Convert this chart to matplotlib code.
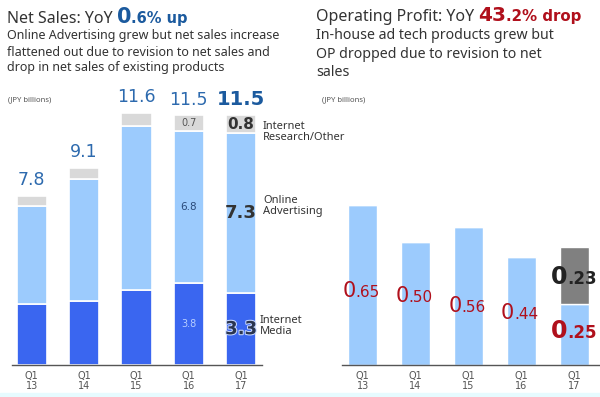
import matplotlib
matplotlib.use("Agg")
import matplotlib.pyplot as plt
from matplotlib.patches import Rectangle
from matplotlib.transforms import offset_copy
import matplotlib.patheffects as pe

plt.rcParams['font.family'] = ['Noto Sans', 'DejaVu Sans']

# ---------------- data ----------------
quarters = ["Q1\n13", "Q1\n14", "Q1\n15", "Q1\n16", "Q1\n17"]
internet_media = [2.8, 2.95, 3.45, 3.8, 3.3]
online_advertising = [4.55, 5.6, 7.55, 7.0, 7.4]
research_other = [0.45, 0.55, 0.6, 0.7, 0.8]
net_sales_totals = ["7.8", "9.1", "11.6", "11.5", "11.5"]
seg_labels_q16 = ["3.8", "6.8", "0.7"]
seg_labels_q17 = ["3.3", "7.3", "0.8"]

op_base = [0.65, 0.50, 0.56, 0.44, 0.25]
op_extra = [0, 0, 0, 0, 0.23]
op_labels = ["0.65", "0.50", "0.56", "0.44", "0.25"]
op_extra_label = "0.23"

# ---------------- style ----------------
W, H = 600, 397
C_DARK = "#3a66f0"
C_LIGHT = "#9ccbfd"
C_GRAY = "#d9d9d9"
C_OPGRAY = "#808080"
C_RED = "#b0101c"
C_BLUE_T = "#2d6aae"
C_BLUE_B = "#1b5a9e"
C_TXT = "#333333"
NUMF = ["DejaVu Sans"]

fig = plt.figure(figsize=(6.0, 3.97), dpi=100)
fig.patches.append(Rectangle((0, 0), 1, 4 / H, transform=fig.transFigure,
                             color="#e6fbff", zorder=0))
renderer = fig.canvas.get_renderer()


def px_axes(x0, y0top, x1, y1top):
    return fig.add_axes([x0 / W, 1 - y1top / H, (x1 - x0) / W, (y1top - y0top) / H])


def style_axes(ax):
    for s in ["top", "right", "left"]:
        ax.spines[s].set_visible(False)
    ax.spines["bottom"].set_color("#555555")
    ax.spines["bottom"].set_linewidth(1.0)
    ax.set_yticks([])
    ax.tick_params(axis="x", length=0, pad=4)
    ax.set_xticks(range(len(quarters)))
    ax.set_xticklabels(quarters, linespacing=1.1, fontsize=7, color="#555555",
                       family=NUMF)


def seq_text(x_px, y_px, parts):
    """Draw text pieces one after another on a shared baseline (pixel coords from top)."""
    xp = x_px
    for s, kw in parts:
        t = fig.text(xp / W, 1 - y_px / H, s, va="baseline", ha="left", **kw)
        bb = t.get_window_extent(renderer)
        xp = bb.x1


x = list(range(len(quarters)))

# ---------------- left: net sales ----------------
ax1 = px_axes(12, 100, 262, 365)
style_axes(ax1)
ax1.set_xlim(-0.38, 4.40)
ax1.set_ylim(0, 265 / 21.7)
bw = 0.58
ax1.bar(x, internet_media, bw, color=C_DARK, edgecolor="white", linewidth=1.2)
ax1.bar(x, online_advertising, bw, bottom=internet_media, color=C_LIGHT,
        edgecolor="white", linewidth=1.2)
b2 = [a + b for a, b in zip(internet_media, online_advertising)]
ax1.bar(x, research_other, bw, bottom=b2, color=C_GRAY, edgecolor="white", linewidth=1.2)
tops = [a + b for a, b in zip(b2, research_other)]

for i, t in enumerate(net_sales_totals):
    last = i == len(x) - 1
    ax1.annotate(t, (i, tops[i]), xytext=(0, 5), textcoords="offset points",
                 ha="center", va="bottom", family=NUMF,
                 fontsize=14 if last else 12.5,
                 fontweight="bold" if last else "normal",
                 color=C_BLUE_B if last else C_BLUE_T)

# segment labels for Q1 16 (small) and Q1 17 (bold)
i = 3
ax1.text(i, b2[i] + research_other[i] / 2, seg_labels_q16[2], ha="center", va="center",
         fontsize=7, color="#555555", family=NUMF)
ax1.text(i, internet_media[i] + online_advertising[i] / 2, seg_labels_q16[1], ha="center",
         va="center", fontsize=7.5, color="#2a4a7a", family=NUMF)
ax1.text(i, internet_media[i] / 2, seg_labels_q16[0], ha="center", va="center",
         fontsize=7, color="#b8cfff", family=NUMF)
i = 4
ax1.text(i, b2[i] + research_other[i] / 2, seg_labels_q17[2], ha="center", va="center",
         fontsize=11, fontweight="bold", color=C_TXT, family=NUMF)
ax1.text(i, internet_media[i] + online_advertising[i] / 2, seg_labels_q17[1], ha="center",
         va="center", fontsize=13, fontweight="bold", color=C_TXT, family=NUMF)
ax1.text(i, internet_media[i] / 2, seg_labels_q17[0], ha="center", va="center",
         fontsize=13, fontweight="bold", color="#2a3550", family=NUMF,
         path_effects=[pe.withStroke(linewidth=1.5, foreground="#c8d8ff")])

# category labels at right
fig.text(263 / W, 1 - 132 / H, "Internet\nResearch/Other", fontsize=8, color=C_TXT,
         va="center", ha="left", linespacing=0.95)
fig.text(263 / W, 1 - 206 / H, "Online\nAdvertising", fontsize=8, color=C_TXT,
         va="center", ha="left", linespacing=1.05)
fig.text(260 / W, 1 - 326 / H, "Internet\nMedia", fontsize=8, color=C_TXT,
         va="center", ha="left", linespacing=1.05)

# ---------------- right: operating profit ----------------
ax2 = px_axes(342, 100, 600, 365)
style_axes(ax2)
ax2.set_xlim(-0.39, 4.49)
ax2.set_ylim(0, 265 / 246)
bw2 = 0.55
ax2.bar(x, op_base, bw2, color=C_LIGHT, edgecolor="white", linewidth=1.0)
ax2.bar(x, op_extra, bw2, bottom=op_base, color=C_OPGRAY, edgecolor="white", linewidth=1.0)

op_label_y = [0.305, 0.285, 0.245, 0.215, 0.14]


def split_label(ax, xc, yc, s, color, big, small, bold=False):
    head, tail = s.split(".", 1)
    w = "bold" if bold else "normal"
    tr = offset_copy(ax.transData, fig=fig, x=-5, y=0, units="points")
    ax.text(xc, yc, head, transform=tr, ha="right", va="baseline", family=NUMF,
            fontsize=big, color=color, fontweight=w)
    ax.text(xc, yc, "." + tail, transform=tr, ha="left", va="baseline", family=NUMF,
            fontsize=small, color=color, fontweight=w)


for i, s in enumerate(op_labels):
    last = i == len(x) - 1
    split_label(ax2, i, op_label_y[i] - 0.03, s, C_RED,
                17 if last else 15, 12 if last else 11, bold=last)
split_label(ax2, 4, 0.33, op_extra_label, "#222222", 17, 12, bold=True)

# ---------------- titles ----------------
seq_text(7, 23, [("Net Sales: YoY ", dict(fontsize=11.5, color=C_TXT)),
                 ("0", dict(fontsize=15, fontweight="bold", color=C_BLUE_B, family=NUMF)),
                 (".6% up", dict(fontsize=10.5, fontweight="bold", color=C_BLUE_B,
                                 family=NUMF))])
fig.text(7 / W, 1 - 52 / H,
         "Online Advertising grew but net sales increase\n"
         "flattened out due to revision to net sales and\n"
         "drop in net sales of existing products",
         fontsize=9, color=C_TXT, va="center", ha="left", linespacing=1.3)
fig.text(8 / W, 1 - 100 / H, "(JPY billions)", fontsize=5.5, color="#555555",
         va="center", ha="left")

seq_text(316, 21, [("Operating Profit: YoY ", dict(fontsize=11.5, color=C_TXT)),
                   ("43", dict(fontsize=14.5, fontweight="bold", color=C_RED, family=NUMF)),
                   (".2% drop", dict(fontsize=10.8, fontweight="bold", color=C_RED,
                                     family=NUMF))])
fig.text(316 / W, 1 - 54 / H,
         "In-house ad tech products grew but\n"
         "OP dropped due to revision to net\n"
         "sales",
         fontsize=10.2, color=C_TXT, va="center", ha="left", linespacing=1.35)
fig.text(322 / W, 1 - 100 / H, "(JPY billions)", fontsize=5.5, color="#555555",
         va="center", ha="left")

fig.savefig("out.png", dpi=100)
